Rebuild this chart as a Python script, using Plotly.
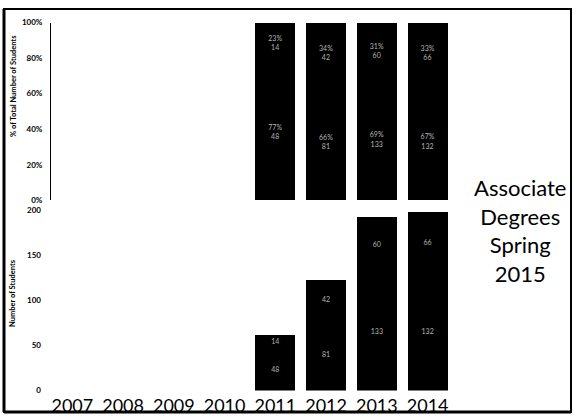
import plotly.graph_objects as go

# Associate degrees by year: lower and upper stacked groups
years = ["2007", "2008", "2009", "2010", "2011", "2012", "2013", "2014"]
lower_counts = [None, None, None, None, 48, 81, 133, 132]
upper_counts = [None, None, None, None, 14, 42, 60, 66]

pct_ticks = [0, 0.2, 0.4, 0.6, 0.8, 1.0]
pct_tick_text = ["0%", "20%", "40%", "60%", "80%", "100%"]
count_ticks = [0, 50, 100, 150, 200]

W, H = 574, 420


def px_x(v):
    return v / W


def px_y(v):
    return 1 - v / H


totals = [(a + b) if a is not None else None for a, b in zip(lower_counts, upper_counts)]
lower_share = [a / t if t else None for a, t in zip(lower_counts, totals)]
upper_share = [b / t if t else None for b, t in zip(upper_counts, totals)]
lower_pct_text = [f"{round(s * 100)}%<br>{a}" if s else "" for s, a in zip(lower_share, lower_counts)]
upper_pct_text = [f"{round(s * 100)}%<br>{b}" if s else "" for s, b in zip(upper_share, upper_counts)]
lower_cnt_text = [str(a) if a else "" for a in lower_counts]
upper_cnt_text = [str(b) if b else "" for b in upper_counts]

bar_font = dict(family="Lato", size=7, color="#b4b4b4")
common_bar = dict(
    marker=dict(color="black", line=dict(width=0)),
    textposition="inside",
    insidetextanchor="middle",
    textangle=0,
    constraintext="none",
    textfont=bar_font,
    showlegend=False,
    hoverinfo="skip",
)

fig = go.Figure()
fig.add_trace(go.Bar(x=years, y=lower_share, text=lower_pct_text, xaxis="x", yaxis="y", **common_bar))
fig.add_trace(go.Bar(x=years, y=upper_share, text=upper_pct_text, xaxis="x", yaxis="y", **common_bar))
fig.add_trace(go.Bar(x=years, y=lower_counts, text=lower_cnt_text, xaxis="x2", yaxis="y2", **common_bar))
fig.add_trace(go.Bar(x=years, y=upper_counts, text=upper_cnt_text, xaxis="x2", yaxis="y2", **common_bar))

tick_font = dict(family="Lato", size=8, color="black", weight="bold")
x_dom = [px_x(51), px_x(453)]
x_common = dict(
    type="category", categoryorder="array", categoryarray=years,
    range=[-0.42, 7.5], domain=x_dom, showgrid=False, zeroline=False,
    showline=False, ticks="", fixedrange=True,
)
title_font = dict(family="Lato", size=7.5, color="black", weight="bold")

fig.update_layout(
    width=W, height=H,
    margin=dict(l=0, r=0, t=0, b=0),
    paper_bgcolor="white", plot_bgcolor="white",
    barmode="stack", bargap=0.21,
    xaxis=dict(**x_common, anchor="y", showticklabels=False),
    yaxis=dict(
        domain=[px_y(200), px_y(18)], range=[0, 1], anchor="x",
        tickvals=pct_ticks, ticktext=pct_tick_text, tickfont=tick_font,
        showline=True, linecolor="black", linewidth=1, showgrid=False,
        zeroline=False, ticks="", ticklabelstandoff=6,
    ),
    xaxis2=dict(
        **x_common, anchor="y2", showticklabels=True,
        tickfont=dict(family="Lato", size=18, color="black"),
        ticklabelstandoff=2,
    ),
    yaxis2=dict(
        domain=[px_y(395), px_y(206)], range=[0, 205], anchor="x2",
        tickvals=count_ticks, tickfont=tick_font,
        showline=False, showgrid=False, zeroline=False, ticks="",
        ticklabelstandoff=9,
    ),
    annotations=[
        dict(text="% of Total Number of Students", x=px_x(13), y=px_y(83),
             xref="paper", yref="paper", xanchor="center", yanchor="middle",
             textangle=-90, showarrow=False, font=title_font),
        dict(text="Number of Students", x=px_x(13), y=px_y(295),
             xref="paper", yref="paper", xanchor="center", yanchor="middle",
             textangle=-90, showarrow=False, font=title_font),
        dict(text="Associate<br>Degrees<br>Spring<br>2015", x=px_x(520), y=px_y(231),
             xref="paper", yref="paper", xanchor="center", yanchor="middle",
             showarrow=False, align="center",
             font=dict(family="Lato", size=22, color="black")),
    ],
    shapes=[
        dict(type="rect", xref="paper", yref="paper",
             x0=px_x(4), x1=px_x(571), y0=px_y(417), y1=px_y(4),
             line=dict(color="black", width=2)),
        dict(type="line", xref="paper", yref="paper",
             x0=px_x(4), x1=px_x(4), y0=px_y(417), y1=px_y(4),
             line=dict(color="black", width=3)),
        dict(type="line", xref="paper", yref="paper",
             x0=px_x(4), x1=px_x(571), y0=px_y(417), y1=px_y(417),
             line=dict(color="black", width=3)),
    ],
)

fig.write_html("out.html")
